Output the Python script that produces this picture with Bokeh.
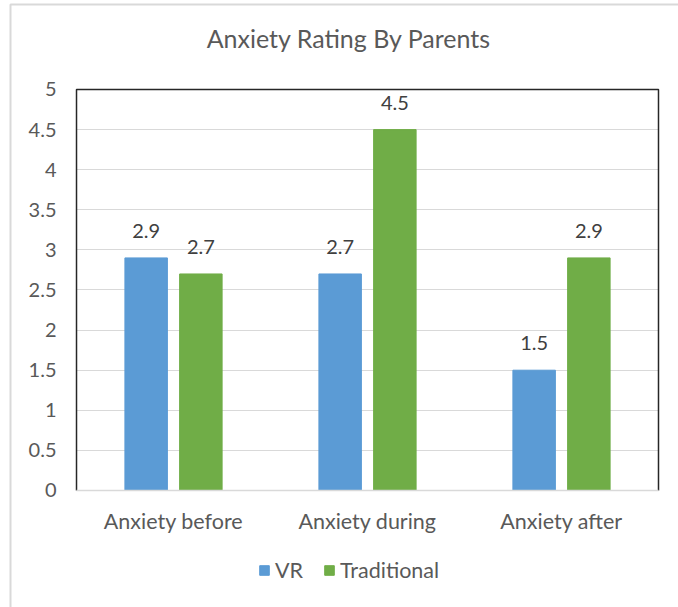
from bokeh.plotting import figure
from bokeh.models import (ColumnDataSource, Range1d, FixedTicker, CustomJSTickFormatter,
                          LabelSet, Label, Legend, LegendItem, BoxAnnotation)
from bokeh.core.properties import value
from bokeh.embed import file_html
from bokeh.resources import INLINE

# Data
categories = ["Anxiety before", "Anxiety during", "Anxiety after"]
vr_values = [2.9, 2.7, 1.5]
traditional_values = [2.7, 4.5, 2.9]
y_ticks = [0, 0.5, 1, 1.5, 2, 2.5, 3, 3.5, 4, 4.5, 5]

FONT = "Lato"
TEXT = "#595959"
GRID = "#d9d9d9"
BLUE = "#5B9BD5"
GREEN = "#70AD47"

# Group centres and dodge of the two series within a group
centres = [i + 0.5 for i in range(len(categories))]
offset = 0.141
bar_w = 0.219

source = ColumnDataSource(data=dict(
    x_vr=[c - offset for c in centres],
    x_tr=[c + offset for c in centres],
    vr=vr_values,
    trad=traditional_values,
    vr_txt=[f"{v:g}" for v in vr_values],
    trad_txt=[f"{v:g}" for v in traditional_values],
))

# The frame fills the whole canvas; the plot area is x 0..3, y 0..5
p = figure(x_range=Range1d(-0.3918, 3.1031), y_range=Range1d(-1.4589, 6.1097),
           width=678, height=607, output_backend="svg", toolbar_location=None,
           min_border=0)
p.outline_line_color = None
p.background_fill_color = "white"
p.border_fill_color = "white"

x_end = len(categories)
y_top = y_ticks[-1]

# Axes pinned to the plot area
p.yaxis.fixed_location = 0
p.yaxis.ticker = FixedTicker(ticks=y_ticks)
p.yaxis.formatter = CustomJSTickFormatter(code="return tick.toString()")
p.yaxis.axis_line_color = None
p.yaxis.major_tick_line_color = None
p.yaxis.minor_tick_line_color = None
p.yaxis.major_label_standoff = 14
p.yaxis.major_label_text_font = FONT
p.yaxis.major_label_text_font_size = "20px"
p.yaxis.major_label_text_color = TEXT

p.xaxis.fixed_location = 0
p.xaxis.bounds = (0, x_end)
p.xaxis.ticker = FixedTicker(ticks=centres)
p.xaxis.formatter = CustomJSTickFormatter(args=dict(names=categories),
                                          code="return names[Math.floor(tick)]")
p.xaxis.axis_line_color = GRID
p.xaxis.axis_line_width = 1.5
p.xaxis.major_tick_line_color = None
p.xaxis.minor_tick_line_color = None
p.xaxis.major_label_standoff = 12
p.xaxis.major_label_text_font = FONT
p.xaxis.major_label_text_font_size = "21.5px"
p.xaxis.major_label_text_color = TEXT

p.xgrid.grid_line_color = None
ygrid = p.ygrid[0]
ygrid.ticker = FixedTicker(ticks=y_ticks)
ygrid.grid_line_color = GRID
ygrid.grid_line_width = 1.2
if "cross_bounds" in ygrid.properties():
    ygrid.cross_bounds = (0, x_end)
else:
    ygrid.grid_line_color = None
    p.segment(x0=0, x1=x_end, y0=y_ticks, y1=y_ticks,
              line_color=GRID, line_width=1.2, level="underlay")

# Plot area border: dark on the left, top and right sides only
p.line(x=[0, 0, x_end, x_end], y=[0, y_top, y_top, 0],
       line_color="#262626", line_width=1.5, level="glyph")

# Chart border, open to the right and bottom
p.add_layout(BoxAnnotation(left=-0.3402, top=6.06, right=4, bottom=-3,
                           fill_color=None, line_color=GRID, line_alpha=1.0,
                           line_width=2, level="underlay"))

# Bars
r_vr = p.vbar(x="x_vr", top="vr", width=bar_w, source=source,
              fill_color=BLUE, line_color=BLUE)
r_tr = p.vbar(x="x_tr", top="trad", width=bar_w, source=source,
              fill_color=GREEN, line_color=GREEN)

# Value labels
for xcol, ycol, txt in [("x_vr", "vr", "vr_txt"), ("x_tr", "trad", "trad_txt")]:
    p.add_layout(LabelSet(x=xcol, y=ycol, text=txt, source=source,
                          text_align="center", text_baseline="bottom", y_offset=20,
                          text_font=value(FONT), text_font_size=value("20px"),
                          text_color="#404040"))

# Title
p.add_layout(Label(x=1.4046, y=5.64, text="Anxiety Rating By Parents",
                   text_align="center", text_baseline="middle", text_font=FONT,
                   text_font_size="25px", text_color=TEXT))

# Legend under the category labels
legend = Legend(items=[LegendItem(label="VR", renderers=[r_vr]),
                       LegendItem(label="Traditional", renderers=[r_tr])],
                orientation="horizontal", location=(258, 24),
                glyph_width=12, glyph_height=12, label_standoff=5, spacing=20,
                padding=0, margin=0, border_line_color=None,
                background_fill_alpha=0, label_text_font=FONT,
                label_text_font_size="21.5px", label_text_color=TEXT)
p.add_layout(legend, "center")

open("out.html", "w").write(file_html(p, INLINE))
